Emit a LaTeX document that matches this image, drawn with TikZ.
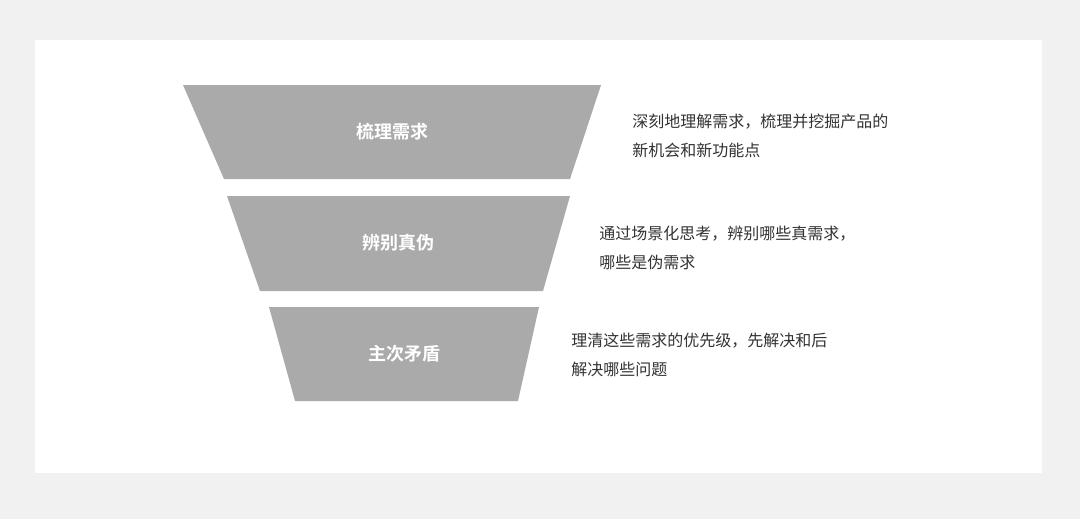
\documentclass[tikz,border=0pt]{standalone}
\usepackage{fontspec}
\usepackage{tikz}
\usetikzlibrary{positioning}
\newfontfamily\cjk{Noto Sans CJK SC}
\newfontfamily\cjkbold{Noto Sans CJK SC Bold}
\definecolor{bgcolor}{RGB}{241, 241, 241}
\definecolor{funnelcolor}{RGB}{170, 170, 170}
\definecolor{textcolor}{RGB}{51, 51, 51}

\begin{document}
\begin{tikzpicture}[x=0.75pt, y=-0.75pt,
  title/.style={text=white, font=\cjkbold\fontsize{13.5}{16}\selectfont},
  desc/.style={anchor=west, inner sep=0pt, align=left, text=textcolor,
    font=\cjk\fontsize{12}{21.75}\selectfont}]
% background
\fill[bgcolor] (0,0) rectangle (1080,519);
\fill[white] (35,40) rectangle (1042,473);

% level 1
\fill[funnelcolor] (183,85) -- (601,85) -- (570,179) -- (224,179) -- cycle;
\node[title] (sort) at (392,132) {梳理需求};
\node[desc] (sorttext) at (632,136) {深刻地理解需求，梳理并挖掘产品的\\新机会和新功能点};

% level 2
\fill[funnelcolor] (227,196) -- (570,196) -- (543,291) -- (260,291) -- cycle;
\node[title] (judge) at (398,243) {辨别真伪};
\node[desc] (judgetext) at (599,248) {通过场景化思考，辨别哪些真需求，\\哪些是伪需求};

% level 3
\fill[funnelcolor] (269,307) -- (539,307) -- (518,401) -- (295,401) -- cycle;
\node[title] (order) at (404,354) {主次矛盾};
\node[desc] (ordertext) at (571,355) {理清这些需求的优先级，先解决和后\\解决哪些问题};
\end{tikzpicture}
\end{document}
